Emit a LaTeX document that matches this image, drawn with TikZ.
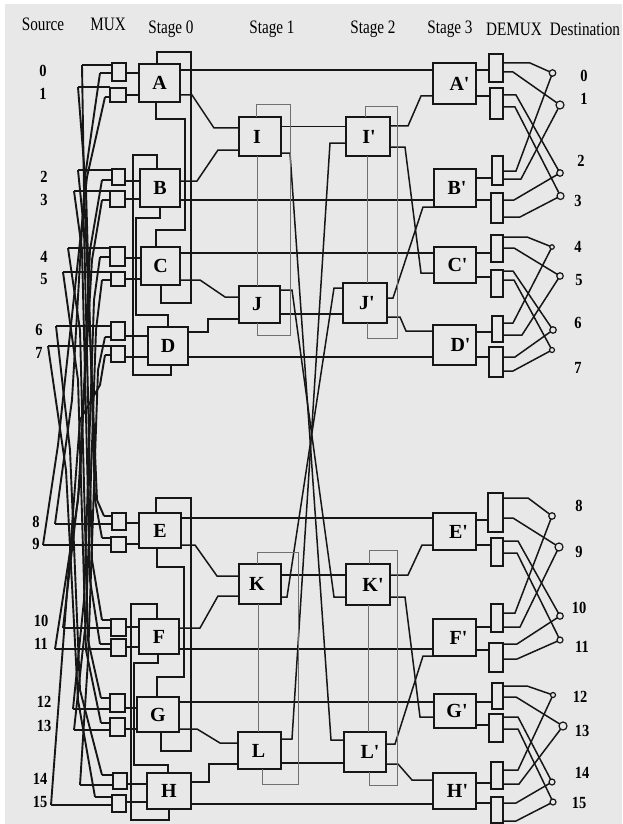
\documentclass[tikz,border=0pt]{standalone}
\usepackage{fontspec}
\setmainfont{Liberation Serif}[Ligatures=TeXOff]
\definecolor{ink}{HTML}{161616}
\definecolor{bgc}{HTML}{E8E8E8}
\definecolor{loopc}{HTML}{707070}
\tikzset{
  stagebox/.style={draw=ink,line width=1.8pt,inner sep=0pt,outer sep=0pt,font=\fontsize{20}{20}\selectfont\bfseries},
  muxbox/.style={draw=ink,line width=1.5pt,inner sep=0pt,outer sep=0pt},
  wire/.style={draw=ink,line width=1.5pt,line join=miter},
  fanwire/.style={draw=ink,line width=1.9pt,line join=round},
  stubwire/.style={draw=ink,line width=1.3pt},
  darkloop/.style={draw=ink,line width=1.5pt},
  midloop/.style={draw=ink,line width=1.1pt},
  greyloop/.style={draw=loopc,line width=.9pt},
  destdot/.style={circle,draw=ink,line width=1.2pt,inner sep=0pt,minimum size=6.5pt,outer sep=0pt},
  head/.style={font=\fontsize{19}{19}\selectfont,inner sep=0pt},
  num/.style={font=\fontsize{17}{17}\selectfont\bfseries,inner sep=0pt}
}
\newcommand{\rbox}[7]{\node[#1,minimum width={(#5-#3)*1pt},minimum height={(#6-#4)*1pt}] (#2) at ({(#3+#5)/2},{(#4+#6)/2}) {#7};}
\newcommand{\hd}[4]{\node[head] (#1) at (#2,#3) {\scalebox{.8}[1]{#4}};}
\newcommand{\sh}[1]{\hspace*{#1pt}}
\begin{document}
\begin{tikzpicture}[x=1pt,y=-1pt]
\useasboundingbox (0,0) rectangle (622,824);
\fill[white] (0,0) rectangle (622,824);
\fill[bgc] (5,4) rectangle (622,824);
% headers
\hd{hSource}{43}{24}{Source}
\hd{hMux}{108}{24}{MUX}
\hd{hS0}{171}{29}{Stage 0}
\hd{hS1}{272}{29}{Stage 1}
\hd{hS2}{373}{29}{Stage 2}
\hd{hS3}{450}{29}{Stage 3}
\hd{hDemux}{514}{29}{DEMUX}
\hd{hDest}{585}{29}{Destination}
% source numbers
\foreach \n/\x/\y in {0/43/71,1/43/94,2/44/177,3/44/200,4/44/257,5/44/279,6/39/330,7/39/353,8/36/522,9/36/544,10/41/621,11/41/644,12/44/702,13/44/726,14/40/779,15/40/802}
  \node[num] (s\n) at (\x,\y) {\scalebox{.85}[1]{\n}};
% destination numbers
\foreach \n/\x/\y in {0/584/76,1/584/99,2/581/161,3/578/201,4/578/247,5/579/280,6/578/323,7/578/368,8/579/506,9/579/552,10/579/608,11/582/647,12/580/697,13/582/731,14/582/773,15/579/803}
  \node[num] (t\n) at (\x,\y) {\scalebox{.85}[1]{\n}};
% stage boxes
\rbox{stagebox}{A}{139}{64}{180}{102}{\raisebox{-3pt}{A}}
\rbox{stagebox}{B}{140}{169}{180}{207}{B}
\rbox{stagebox}{C}{141}{247}{180}{285}{C}
\rbox{stagebox}{D}{148}{327}{188}{365}{D}
\rbox{stagebox}{E}{139}{513}{181}{548}{E}
\rbox{stagebox}{F}{139}{619}{179}{654}{F}
\rbox{stagebox}{G}{137}{697}{179}{732}{G}
\rbox{stagebox}{H}{147}{773}{191}{809}{H}
\rbox{stagebox}{I}{239}{117}{281}{156}{I\sh{6}}
\rbox{stagebox}{J}{239}{286}{280}{323}{J\sh{5}}
\rbox{stagebox}{K}{239}{564}{281}{604}{K\sh{6}}
\rbox{stagebox}{L}{238}{732}{281}{769}{L\sh{2}}
\rbox{stagebox}{I2}{346}{117}{390}{156}{\sh{2}I'}
\rbox{stagebox}{J2}{343}{283}{387}{323}{\sh{4}J'}
\rbox{stagebox}{K2}{346}{564}{390}{605}{\sh{10}K'}
\rbox{stagebox}{L2}{344}{732}{386}{772}{\sh{10}L'}
\rbox{stagebox}{A3}{433}{63}{476}{104}{\sh{10}A'}
\rbox{stagebox}{B3}{434}{169}{476}{207}{\sh{4}B'}
\rbox{stagebox}{C3}{434}{247}{476}{283}{\sh{5}C'}
\rbox{stagebox}{D3}{433}{325}{476}{365}{\sh{12}D'}
\rbox{stagebox}{E3}{433}{513}{476}{550}{\sh{8}E'}
\rbox{stagebox}{F3}{433}{619}{476}{656}{\sh{8}F'}
\rbox{stagebox}{G3}{434}{694}{476}{728}{\sh{4}G'}
\rbox{stagebox}{H3}{433}{773}{476}{809}{\sh{6}H'}
% mux boxes
\foreach \n/\a/\b/\c/\d in {0/112/63/126/81,1/110/88/126/102,2/112/169/125/185,3/110/191/125/207,4/110/247/125/266,5/111/272/125/286,6/111/322/125/340,7/111/346/125/362,8/112/513/126/530,9/111/537/126/552,10/111/619/126/636,11/111/639/126/656,12/110/694/125/712,13/110/718/125/736,14/113/773/127/789,15/112/795/126/812}
  {\rbox{muxbox}{m\n}{\a}{\b}{\c}{\d}{}}
% demux boxes
\foreach \n/\a/\b/\c/\d in {0/489/54/503/82,1/490/88/503/119,2/492/156/503/185,3/491/193/503/223,4/491/235/503/262,5/491/270/503/297,6/492/316/503/342,7/489/347/503/377,8/488/493/503/532,9/491/538/503/566,10/491/604/503/632,11/489/643/503/672,12/492/683/503/709,13/489/714/503/742,14/491/762/503/789,15/491/797/503/823}
  {\rbox{muxbox}{d\n}{\a}{\b}{\c}{\d}{}}
% destination dots
\foreach \n/\x/\y/\s in {0/552.5/73/6.5,1/560/105/8,2/560/173/6.5,3/560.5/196/7,4/552/247/4.5,5/560/276/6.5,6/553/330/6.5,7/552/350/5,8/552/516/6.5,9/559/547/8,10/560/616/6.5,11/560/640/6,12/553/695/5,13/563/726/8,14/552/782/6,15/553/802/6}
  \node[destdot,minimum size=\s pt] (q\n) at (\x,\y) {};
% source corners and mux second-input stubs
\foreach \n/\x/\y in {0/82/65,1/78/87,2/78/170,3/74/191,4/68/248,5/63/272,6/56/326,7/48/346,8/55/524,9/43/545,10/63/628,11/55/649,12/73/709,13/74/730,14/80/785,15/51/805}
  \coordinate (c\n) at (\x,\y);
\foreach \n/\x/\y in {0/100/73,1/105/97,2/102/180,3/102/200,4/100/257,5/102/280,6/105/337,7/105/355,8/104/516,9/102/538,10/102/620,11/100/644,12/101/698,13/101/723,14/102/775,15/95/797}
  \coordinate (u\n) at (\x,\y);
% source to mux
\foreach \n in {0,...,15} {
  \draw[stubwire] (c\n) -- (m\n.west |- c\n);
  \draw[stubwire] (u\n) -- (m\n.west |- u\n);
}
% crossing wires, bunched in the middle
\foreach \s/\ax/\ay/\bx/\by/\t in {0/84/190/97/500/8,1/86/190/95/500/9,2/84/230/92/560/10,3/82/250/90/580/11,4/80/330/88/640/12,5/78/380/86/650/13,6/70/450/80/690/14,7/66/470/78/700/15,8/72/400/85/177/0,9/58/445/87/177/1,10/80/480/90/250/2,11/78/500/92/260/3,12/84/600/94/300/4,13/86/620/96/330/5,14/88/660/98/370/6,15/80/420/100/385/7}
  \draw[fanwire] (c\s) -- (\ax,\ay) -- (\bx,\by) -- (u\t);
% mux to stage 0
\foreach \n/\t/\y in {0/A/73,1/A/95,2/B/181,3/B/199,4/C/258,5/C/279,6/D/336,7/D/357,8/E/523,9/E/544,10/F/627,11/F/647,12/G/708,13/G/729,14/H/784,15/H/802}
  \draw[wire] (m\n.east |- 0,\y) -- (\t.west |- 0,\y);
% straight stage 0 to stage 3
\foreach \a/\b/\y in {A/A3/70,B/B3/200,C/C3/253,D/D3/357,E/E3/518,F/F3/649,G/G3/702,H/H3/804}
  \draw[wire] (\a.east |- 0,\y) -- (\b.west |- 0,\y);
% stage 1 to stage 2 straight
\foreach \a/\b/\y in {I/I2/126.5,J/J2/314,K/K2/575,L/L2/763}
  \draw[wire] (\a.east |- 0,\y) -- (\b.west |- 0,\y);
% stage 0 to stage 1
\draw[wire] (A.east |- 0,95) -- (192,95) -- (214,128) -- (I.west |- 0,128);
\draw[wire] (B.east |- 0,181) -- (197,181) -- (218,150) -- (I.west |- 0,150);
\draw[wire] (C.east |- 0,280) -- (200,280) -- (225,297) -- (J.west |- 0,297);
\draw[wire] (D.east |- 0,332) -- (208,332) -- (208,319) -- (J.west |- 0,319);
\draw[wire] (E.east |- 0,545) -- (195,545) -- (217,576) -- (K.west |- 0,576);
\draw[wire] (F.east |- 0,628) -- (200,628) -- (218,596) -- (K.west |- 0,596);
\draw[wire] (G.east |- 0,729) -- (197,729) -- (220,743) -- (L.west |- 0,743);
\draw[wire] (H.east |- 0,782) -- (209,782) -- (209,764) -- (L.west |- 0,764);
% stage 1 to stage 2 crossing
\draw[wire] (I.east |- 0,153) -- (290,153) -- (331,740) -- (L2.west |- 0,740);
\draw[wire] (J.east |- 0,290) -- (292,290) -- (334,597) -- (K2.west |- 0,597);
\draw[wire] (K.east |- 0,597) -- (287,597) -- (334,288) -- (J2.west |- 0,288);
\draw[wire] (L.east |- 0,739) -- (292,739) -- (330,143) -- (I2.west |- 0,143);
% stage 2 to stage 3
\draw[wire] (I2.east |- 0,126) -- (408,126) -- (421,96) -- (A3.west |- 0,96);
\draw[wire] (I2.east |- 0,147) -- (405,147) -- (421,273) -- (C3.west |- 0,273);
\draw[wire] (J2.east |- 0,298) -- (393,298) -- (423,207) -- (B3.west |- 0,207);
\draw[wire] (J2.east |- 0,317) -- (400,317) -- (406,331) -- (D3.west |- 0,331);
\draw[wire] (K2.east |- 0,575) -- (408,575) -- (422,545) -- (E3.west |- 0,545);
\draw[wire] (K2.east |- 0,597) -- (405,597) -- (420,717) -- (G3.west |- 0,717);
\draw[wire] (L2.east |- 0,744) -- (395,744) -- (423,656) -- (F3.west |- 0,656);
\draw[wire] (L2.east |- 0,764) -- (398,764) -- (412,780) -- (H3.west |- 0,780);
% stage 3 to demux
\foreach \n/\s/\y in {0/A3/70,1/A3/96,2/B3/178,3/B3/200,4/C3/253,5/C3/277,6/D3/332,7/D3/357,8/E3/520,9/E3/545,10/F3/627,11/F3/650,12/G3/702,13/G3/725,14/H3/783,15/H3/803}
  \draw[wire] (\s.east |- 0,\y) -- (d\n.west |- 0,\y);
% demux to destinations
\foreach \n/\y/\x/\t in {0/63/530/0,0/72/513/1,1/95/516/2,1/107/515/3,2/171/516/0,2/179/521/1,3/200/514/2,3/217/520/3,4/237/527/4,4/248/514/5,5/271/513/6,5/280/514/7,6/323/513/4,6/335/522/5,7/357/515/6,7/371/513/7,8/498/528/8,8/518/513/9,9/541/518/10,9/553/517/11,10/613/515/8,10/627/520/9,11/644/517/10,11/659/517/11,12/686/527/12,12/697/516/13,13/717/518/14,13/729/518/15,14/770/518/12,14/784/519/13,15/803/516/14,15/821/516/15}
  \draw[wire] (d\n.east |- 0,\y) -- (\x,\y) -- (q\t);
% stage 0 loops
\draw[darkloop] (A.north -| 157,0) -- (157,52) -- (191,52) -- (191,303) -- (161,303) -- (C.south -| 161,0);
\draw[darkloop] (A.south -| 156,0) -- (156,119) -- (185,119) -- (185,230) -- (156,230) -- (C.north -| 156,0);
\draw[midloop] (B.north -| 157,0) -- (157,155) -- (133,155) -- (133,375) -- (171,375) -- (D.south -| 171,0);
\draw[midloop] (B.south -| 160,0) -- (160,218) -- (136,218) -- (136,315) -- (168,315) -- (D.north -| 168,0);
\draw[darkloop] (E.north -| 156,0) -- (156,498) -- (191,498) -- (191,751) -- (161,751) -- (G.south -| 161,0);
\draw[darkloop] (E.south -| 157,0) -- (157,567) -- (184,567) -- (184,677) -- (157,677) -- (G.north -| 157,0);
\draw[midloop] (F.north -| 157,0) -- (157,604) -- (131,604) -- (131,820) -- (169,820) -- (H.south -| 169,0);
\draw[midloop] (F.south -| 158,0) -- (158,663) -- (134,663) -- (134,765) -- (168,765) -- (H.north -| 168,0);
% stage 1 and 2 grey loops
\draw[greyloop] (I.north -| 256,0) -- (256,104) -- (290,104) -- (290,335) -- (257,335) -- (J.south -| 257,0);
\draw[greyloop] (I.south -| 257,0) -- (J.north -| 257,0);
\draw[greyloop] (I2.north -| 365,0) -- (365,106) -- (397,106) -- (397,338) -- (367,338) -- (J2.south -| 367,0);
\draw[greyloop] (I2.south -| 367,0) -- (J2.north -| 367,0);
\draw[greyloop] (K.north -| 257,0) -- (257,552) -- (298,552) -- (298,784) -- (262,784) -- (L.south -| 262,0);
\draw[greyloop] (K.south -| 258,0) -- (L.north -| 258,0);
\draw[greyloop] (K2.north -| 369,0) -- (369,550) -- (397,550) -- (397,785) -- (369,785) -- (L2.south -| 369,0);
\draw[greyloop] (K2.south -| 368,0) -- (L2.north -| 368,0);
\end{tikzpicture}
\end{document}
